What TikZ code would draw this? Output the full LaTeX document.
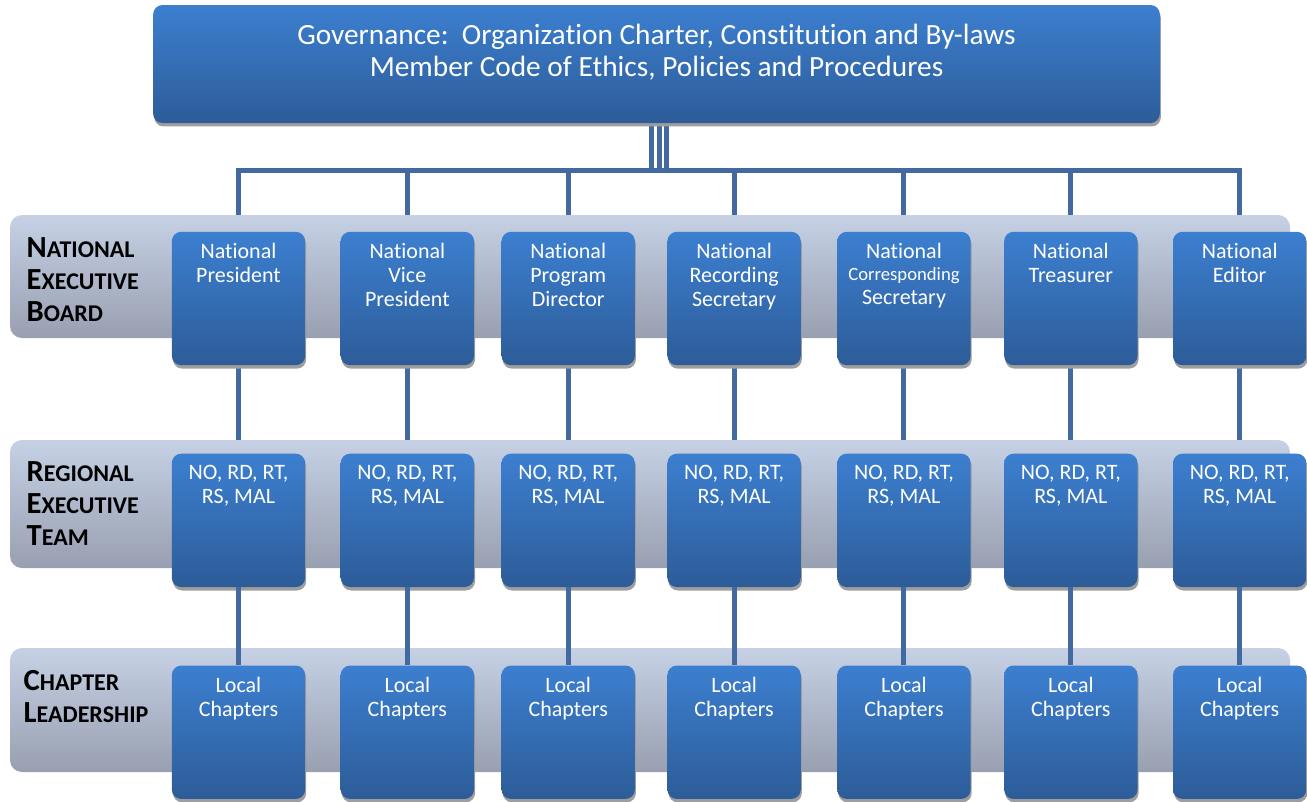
\documentclass[tikz,border=0pt]{standalone}
\usepackage{fontspec}
\setmainfont{Carlito}[RawFeature={-liga,-clig,-calt}]
\usetikzlibrary{positioning, shadows}

\definecolor{boxtop}{RGB}{60,127,208}
\definecolor{boxbot}{RGB}{45,92,152}
\definecolor{bandtop}{RGB}{198,209,229}
\definecolor{bandmid}{RGB}{184,192,211}
\definecolor{bandbot}{RGB}{152,159,176}
\definecolor{linkblue}{RGB}{66,105,160}

\pgfdeclarelayer{links}
\pgfdeclarelayer{bands}
\pgfsetlayers{links,bands,main}

% big first letter, rest as small capitals
\newcommand{\capword}[2]{{\fontsize{23}{24}\selectfont #1}{\fontsize{18}{24}\selectfont #2}}

\tikzset{
  topalign/.style n args={3}{inner sep=0pt,
    execute at begin node={\begin{minipage}[t][#2][t]{#1}\centering\vspace*{#3}},
    execute at end node={\end{minipage}}},
  bluebox/.style={rectangle, rounded corners=7pt, top color=boxtop, bottom color=boxbot, text=white,
    general shadow={fill=black!38, shadow xshift=0.8pt, shadow yshift=-2.6pt}},
  officer/.style={bluebox, topalign={100pt}{100pt}{8.5pt}, font=\fontsize{16.5}{18}\selectfont},
  govbox/.style={bluebox, topalign={755pt}{88.5pt}{14pt}, font=\fontsize{22}{24}\selectfont},
  rowlabel/.style={anchor=west, align=left, font=\bfseries\fontsize{18}{24}\selectfont},
  band/.style={rounded corners=9pt, top color=bandtop, middle color=bandmid, bottom color=bandbot},
  link/.style={draw=linkblue, line width=3.75pt},
}

\begin{document}
\begin{tikzpicture}[x=0.75pt, y=-0.75pt]
  \useasboundingbox (0,0) rectangle (1307,801);

  % Governance box
  \node[govbox] (gov) at (656.5,64) {Governance:\ \ Organization Charter, Constitution and By-laws\\Member Code of Ethics, Policies and Procedures};
  \coordinate (bus) at (656.5,170);

  % National executive board
  \node[officer] (pres) at (238.5,298.5) {National\\President};
  \node[officer, right=26.25pt of pres] (vpres) {National\\Vice\\President};
  \node[officer, right=20.25pt of vpres] (progdir) {National\\Program\\Director};
  \node[officer, right=24pt of progdir] (recsec) {National\\Recording\\Secretary};
  \node[officer, right=27pt of recsec] (corsec) {\fontsize{16.5}{16.5}\selectfont National\\{\fontsize{14}{15}\selectfont Corresponding}\\Secretary};
  \node[officer, right=24.75pt of corsec] (treas) {National\\Treasurer};
  \node[officer, right=26.25pt of treas] (editor) {National\\Editor};

  % Regional executive team
  \node[officer, below=66pt of pres] (pres-reg) {NO, RD, RT,\\RS, MAL};
  \node[officer, below=66pt of vpres] (vpres-reg) {NO, RD, RT,\\RS, MAL};
  \node[officer, below=66pt of progdir] (progdir-reg) {NO, RD, RT,\\RS, MAL};
  \node[officer, below=66pt of recsec] (recsec-reg) {NO, RD, RT,\\RS, MAL};
  \node[officer, below=66pt of corsec] (corsec-reg) {NO, RD, RT,\\RS, MAL};
  \node[officer, below=66pt of treas] (treas-reg) {NO, RD, RT,\\RS, MAL};
  \node[officer, below=66pt of editor] (editor-reg) {NO, RD, RT,\\RS, MAL};

  % Chapter leadership
  \node[officer, below=58.5pt of pres-reg] (pres-loc) {Local\\Chapters};
  \node[officer, below=58.5pt of vpres-reg] (vpres-loc) {Local\\Chapters};
  \node[officer, below=58.5pt of progdir-reg] (progdir-loc) {Local\\Chapters};
  \node[officer, below=58.5pt of recsec-reg] (recsec-loc) {Local\\Chapters};
  \node[officer, below=58.5pt of corsec-reg] (corsec-loc) {Local\\Chapters};
  \node[officer, below=58.5pt of treas-reg] (treas-loc) {Local\\Chapters};
  \node[officer, below=58.5pt of editor-reg] (editor-loc) {Local\\Chapters};

  % Row labels
  \node[rowlabel] (neb) at (22,279.5) {\capword{N}{ATIONAL}\\\capword{E}{XECUTIVE}\\\capword{B}{OARD}};
  \node[rowlabel] (ret) at (22,504) {\capword{R}{EGIONAL}\\\capword{E}{XECUTIVE}\\\capword{T}{EAM}};
  \node[rowlabel] (cl) at (19,697) {\capword{C}{HAPTER}\\\capword{L}{EADERSHIP}};

  % Bands behind each row
  \begin{pgfonlayer}{bands}
    \shade[band] (10,215) rectangle (1290,338);
    \shade[band] (10,440) rectangle (1290,568);
    \shade[band] (10,648) rectangle (1290,772);
  \end{pgfonlayer}

  % gov -> board
  \begin{pgfonlayer}{links}
    \draw[link] ([xshift=-4.1pt]gov.south) |- (bus) -| (pres.north);
    \draw[link] ([xshift=-4.1pt]gov.south) |- (bus) -| (vpres.north);
    \draw[link] ([xshift=-4.1pt]gov.south) |- (bus) -| (progdir.north);
    \draw[link] ([xshift=2.3pt]gov.south) |- (bus) -| (recsec.north);
    \draw[link] ([xshift=7.5pt]gov.south) |- (bus) -| (corsec.north);
    \draw[link] ([xshift=7.5pt]gov.south) |- (bus) -| (treas.north);
    \draw[link] ([xshift=7.5pt]gov.south) |- (bus) -| (editor.north);
    % board -> regional
    \draw[link] (pres) -- (pres-reg);
    \draw[link] (vpres) -- (vpres-reg);
    \draw[link] (progdir) -- (progdir-reg);
    \draw[link] (recsec) -- (recsec-reg);
    \draw[link] (corsec) -- (corsec-reg);
    \draw[link] (treas) -- (treas-reg);
    \draw[link] (editor) -- (editor-reg);
  \end{pgfonlayer}

  % regional -> chapters
  \draw[link] (pres-reg) -- (pres-loc);
  \draw[link] (vpres-reg) -- (vpres-loc);
  \draw[link] (progdir-reg) -- (progdir-loc);
  \draw[link] (recsec-reg) -- (recsec-loc);
  \draw[link] (corsec-reg) -- (corsec-loc);
  \draw[link] (treas-reg) -- (treas-loc);
  \draw[link] (editor-reg) -- (editor-loc);
\end{tikzpicture}
\end{document}
